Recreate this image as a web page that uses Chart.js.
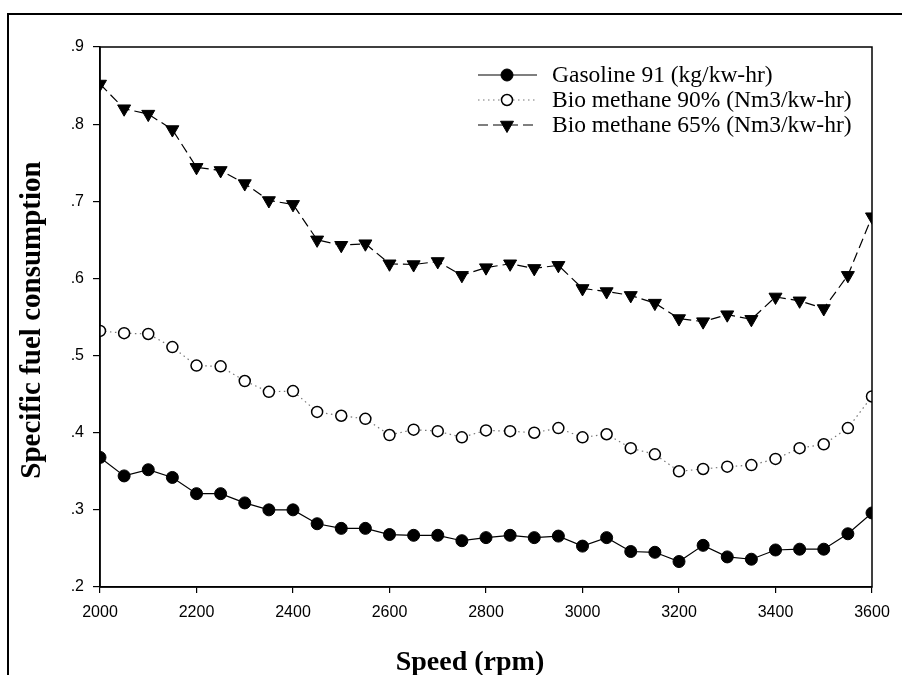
<!DOCTYPE html>
<html>
<head>
<meta charset="utf-8">
<script src="https://cdn.jsdelivr.net/npm/chart.js@4"></script>
<style>
  html, body { margin: 0; padding: 0; background: #fff; overflow: hidden; }
  canvas { display: block; }
</style>
</head>
<body>
<canvas id="myGraph" width="902" height="675"></canvas>
<script>
// Datos
const speeds = [2000, 2050, 2100, 2150, 2200, 2250, 2300, 2350, 2400, 2450, 2500,
    2550, 2600, 2650, 2700, 2750, 2800, 2850, 2900, 2950, 3000, 3050, 3100, 3150,
    3200, 3250, 3300, 3350, 3400, 3450, 3500, 3550, 3600];

const gasoline91 = [0.368, 0.344, 0.352, 0.342, 0.321, 0.321, 0.309, 0.300, 0.300,
    0.282, 0.276, 0.276, 0.268, 0.267, 0.267, 0.260, 0.264, 0.267, 0.264, 0.266,
    0.253, 0.264, 0.246, 0.245, 0.233, 0.254, 0.239, 0.236, 0.248, 0.249, 0.249,
    0.269, 0.296];

const bioMethane90 = [0.532, 0.529, 0.528, 0.511, 0.487, 0.486, 0.467, 0.453, 0.454,
    0.427, 0.422, 0.418, 0.397, 0.404, 0.402, 0.394, 0.403, 0.402, 0.400, 0.406,
    0.394, 0.398, 0.380, 0.372, 0.350, 0.353, 0.356, 0.358, 0.366, 0.380, 0.385,
    0.406, 0.447];

const bioMethane65 = [0.852, 0.820, 0.813, 0.793, 0.744, 0.740, 0.723, 0.701, 0.696,
    0.650, 0.643, 0.645, 0.619, 0.618, 0.622, 0.604, 0.614, 0.619, 0.613, 0.617,
    0.587, 0.583, 0.578, 0.568, 0.548, 0.544, 0.553, 0.547, 0.576, 0.571, 0.561,
    0.604, 0.680];

const seriesNames = ["Gasoline 91 (kg/kw-hr)", "Bio methane 90% (Nm3/kw-hr)", "Bio methane 65% (Nm3/kw-hr)"];
const xTitle = "Speed (rpm)";
const yTitle = "Specific fuel consumption";

const toPoints = (vals) => vals.map((v, i) => ({ x: speeds[i], y: v }));

const tickFont = { family: "'Liberation Sans', Arial", size: 16 };

// Marco exterior, caja del gráfico, títulos y leyenda
const decorPlugin = {
    id: "decor",
    beforeDraw: (chart) => {
        const ctx = chart.ctx;
        ctx.save();
        ctx.fillStyle = "#fff";
        ctx.fillRect(0, 0, chart.width, chart.height);
        ctx.strokeStyle = "#000";
        ctx.lineWidth = 2;
        ctx.beginPath();
        ctx.moveTo(8, chart.height + 5);
        ctx.lineTo(8, 14);
        ctx.lineTo(chart.width + 5, 14);
        ctx.stroke();
        ctx.restore();
    },
    afterDraw: (chart) => {
        const ctx = chart.ctx;
        const a = chart.chartArea;
        ctx.save();
        ctx.strokeStyle = "#000";
        ctx.lineWidth = 1.5;
        ctx.strokeRect(a.left, a.top, a.right - a.left, a.bottom - a.top);

        // Títulos de ejes
        ctx.fillStyle = "#000";
        ctx.font = "bold 28px 'Liberation Serif', 'Times New Roman'";
        ctx.textAlign = "center";
        ctx.textBaseline = "alphabetic";
        ctx.fillText(xTitle, 470, 670);
        ctx.save();
        ctx.font = "bold 29px 'Liberation Serif', 'Times New Roman'";
        ctx.translate(40, 320);
        ctx.rotate(-Math.PI / 2);
        ctx.fillText(yTitle, 0, 0);
        ctx.restore();

        // Leyenda
        ctx.font = "23.5px 'Liberation Serif', 'Times New Roman'";
        ctx.textAlign = "left";
        ctx.textBaseline = "middle";
        chart.data.datasets.forEach((ds, i) => {
            const y = 75 + i * 25;
            ctx.save();
            ctx.strokeStyle = ds.borderColor;
            ctx.lineWidth = ds.borderWidth;
            ctx.setLineDash(ds.borderDash || []);
            ctx.beginPath();
            ctx.moveTo(478, y);
            ctx.lineTo(537, y);
            ctx.stroke();
            ctx.restore();
            ctx.save();
            ctx.fillStyle = ds.pointBackgroundColor;
            ctx.strokeStyle = ds.pointBorderColor;
            ctx.lineWidth = ds.pointBorderWidth;
            Chart.helpers.drawPoint(ctx, {
                pointStyle: ds.pointStyle,
                radius: ds.pointRadius,
                rotation: ds.pointRotation || 0,
                borderWidth: ds.pointBorderWidth
            }, 507, y);
            ctx.restore();
            ctx.fillStyle = "#000";
            ctx.fillText(ds.label, 552, y + 1);
        });
        ctx.restore();
    }
};

const ctx = document.getElementById("myGraph").getContext("2d");

const myGraph = new Chart(ctx, {
    type: "line",
    data: {
        datasets: [
            {
                label: seriesNames[0],
                data: toPoints(gasoline91),
                borderColor: "#000",
                borderWidth: 1.2,
                pointStyle: "circle",
                pointRadius: 6,
                pointBackgroundColor: "#000",
                pointBorderColor: "#000",
                pointBorderWidth: 1,
                order: 3,
            },
            {
                label: seriesNames[1],
                data: toPoints(bioMethane90),
                borderColor: "#777",
                borderWidth: 1.2,
                borderDash: [1.5, 3.5],
                pointStyle: "circle",
                pointRadius: 5.5,
                pointBackgroundColor: "#fff",
                pointBorderColor: "#000",
                pointBorderWidth: 1.5,
                order: 2,
            },
            {
                label: seriesNames[2],
                data: toPoints(bioMethane65),
                borderColor: "#000",
                borderWidth: 1.2,
                borderDash: [10, 5],
                pointStyle: "triangle",
                pointRotation: 180,
                pointRadius: 7.5,
                pointBackgroundColor: "#000",
                pointBorderColor: "#000",
                pointBorderWidth: 1,
                order: 1,
            },
        ],
    },
    options: {
        responsive: false,
        animation: false,
        devicePixelRatio: 1,
        layout: { padding: { top: 47, right: 30, left: 0, bottom: 0 } },
        plugins: {
            legend: { display: false },
            tooltip: { enabled: false },
        },
        elements: { line: { tension: 0 } },
        scales: {
            x: {
                type: "linear",
                min: 2000,
                max: 3600,
                afterFit: (scale) => { scale.height = 88; },
                grid: { display: true, drawOnChartArea: false, drawTicks: true, tickLength: 6, color: "#000", lineWidth: 1.2 },
                border: { display: true, color: "#000", width: 1.5 },
                ticks: {
                    stepSize: 200,
                    autoSkip: false,
                    color: "#000",
                    font: tickFont,
                    padding: 10,
                    maxRotation: 0,
                    callback: (v) => String(v),
                },
            },
            y: {
                min: 0.2,
                max: 0.9,
                afterFit: (scale) => { scale.width = 100; },
                grid: { display: true, drawOnChartArea: false, drawTicks: true, tickLength: 7, color: "#000", lineWidth: 1.2 },
                border: { display: true, color: "#000", width: 1.5 },
                ticks: {
                    stepSize: 0.1,
                    color: "#000",
                    font: tickFont,
                    padding: 9,
                    callback: (v) => Number(v).toFixed(1).replace(/^0/, ""),
                },
            },
        },
    },
    plugins: [decorPlugin],
});
</script>
</body>
</html>
